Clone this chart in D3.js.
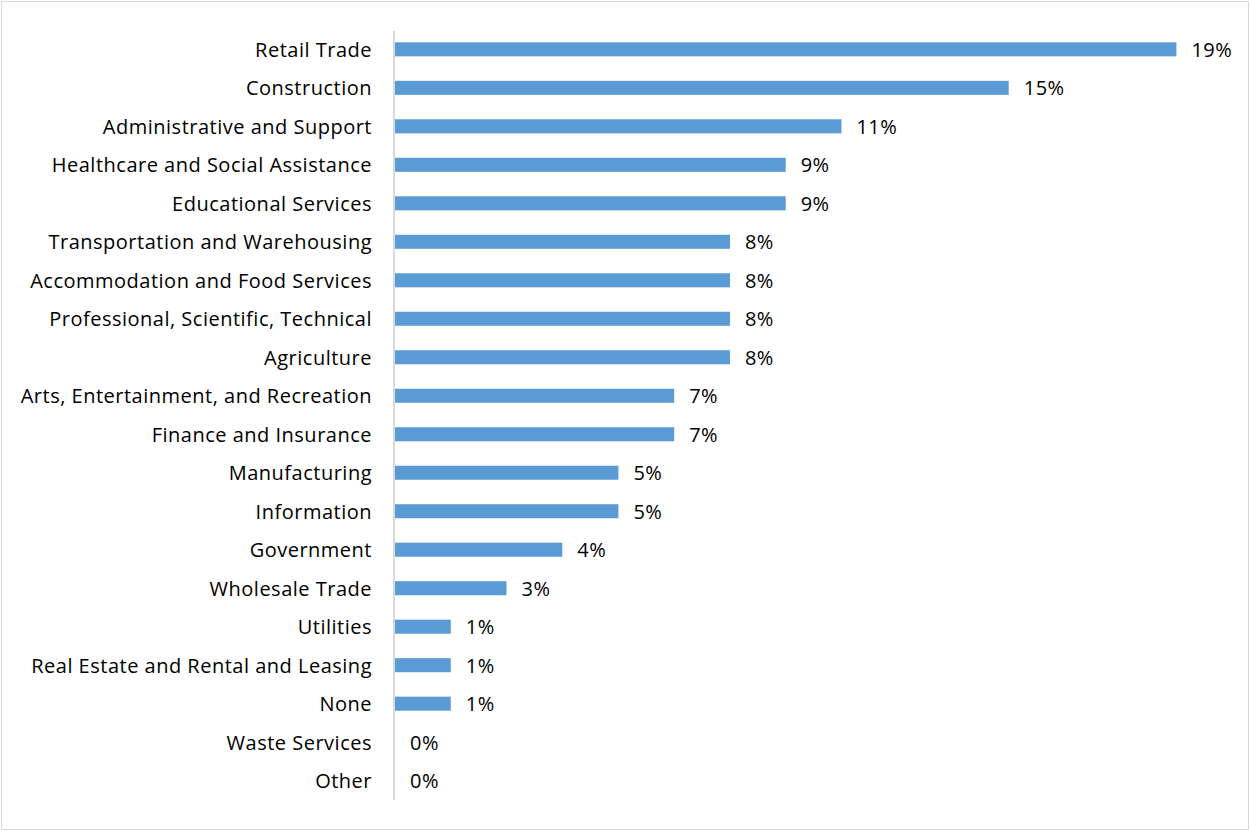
<!DOCTYPE html>
<html>
<head>
<meta charset="utf-8">
<script src="https://cdn.jsdelivr.net/npm/d3@7"></script>
<style>
  html, body { margin: 0; padding: 0; background: #fff; }
  svg { display: block; }
  text { font-family: "Open Sans", Lato, sans-serif; fill: #000; }
</style>
</head>
<body>
<svg id="chart" width="1250" height="831"></svg>
<script>
// Industry categories, top to bottom
const industries = [
  "Retail Trade",
  "Construction",
  "Administrative and Support",
  "Healthcare and Social Assistance",
  "Educational Services",
  "Transportation and Warehousing",
  "Accommodation and Food Services",
  "Professional, Scientific, Technical",
  "Agriculture",
  "Arts, Entertainment, and Recreation",
  "Finance and Insurance",
  "Manufacturing",
  "Information",
  "Government",
  "Wholesale Trade",
  "Utilities",
  "Real Estate and Rental and Leasing",
  "None",
  "Waste Services",
  "Other"
];

// Share of responses per industry
const shares = [
  0.1892, 0.1486, 0.1081, 0.0946, 0.0946,
  0.0811, 0.0811, 0.0811, 0.0811,
  0.0676, 0.0676, 0.0541, 0.0541,
  0.0405, 0.0270, 0.0135, 0.0135, 0.0135,
  0, 0
];

const xDomain = [0, 0.20];

const svg = d3.select("#chart");
const W = 1250, H = 831;

// outer frame
svg.append("rect")
  .attr("x", 1.5).attr("y", 1.5)
  .attr("width", W - 3).attr("height", H - 3)
  .attr("fill", "#fff")
  .attr("stroke", "#d9d9d9")
  .attr("stroke-width", 1);

const left = 395;
const x = d3.scaleLinear().domain(xDomain).range([left, left + 826]);

const y = d3.scaleBand()
  .domain(industries)
  .range([30, 800])
  .paddingInner(0.635)
  .paddingOuter(0.32);

const data = industries.map((name, i) => ({ name, value: shares[i] }));

// bars
svg.append("g")
  .selectAll("rect")
  .data(data)
  .join("rect")
  .attr("x", x(0))
  .attr("y", d => y(d.name))
  .attr("width", d => x(d.value) - x(0))
  .attr("height", y.bandwidth())
  .attr("fill", "#5b9bd5");

// category axis
const yAxis = d3.axisLeft(y).tickSize(0).tickPadding(22);
const gy = svg.append("g")
  .attr("transform", `translate(${left - 1},0)`)
  .call(yAxis);
gy.select(".domain")
  .attr("stroke", "#d9d9d9")
  .attr("stroke-width", 2)
  .attr("d", `M0,31V800`);
gy.selectAll("text")
  .style("font-family", "'Open Sans', Lato, sans-serif")
  .style("font-size", "20px")
  .style("letter-spacing", "0.5px")
  .attr("dy", "0.38em")
  .attr("fill", "#000");

// value labels
const fmt = d3.format(".0%");
svg.append("g")
  .selectAll("text")
  .data(data)
  .join("text")
  .attr("x", d => x(d.value) + 15)
  .attr("y", d => y(d.name) + y.bandwidth() / 2)
  .attr("dy", "0.38em")
  .style("font-size", "20px")
  .style("letter-spacing", "0.5px")
  .text(d => fmt(d.value));
</script>
</body>
</html>
